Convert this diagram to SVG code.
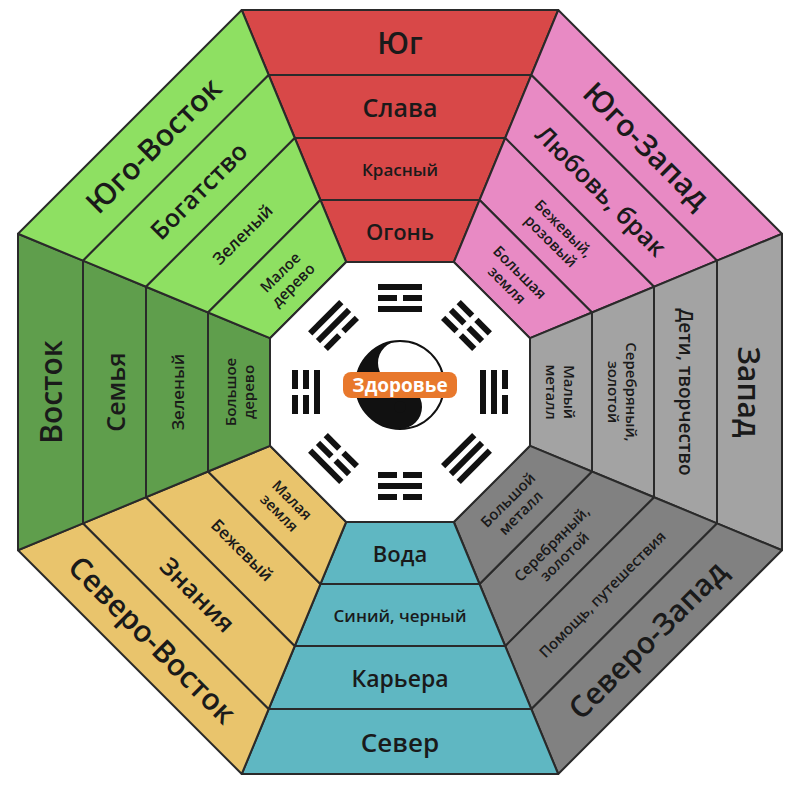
<svg xmlns="http://www.w3.org/2000/svg" width="800" height="786" viewBox="0 0 800 786">
<style>
.b{stroke:#2a2a2a;stroke-width:2;stroke-linejoin:round}
text{font-family:"Open Sans","DejaVu Sans",sans-serif;text-anchor:middle;dominant-baseline:central;fill:#1a1a1a;font-weight:600}
.t0{font-size:30px}.t1{font-size:25px}.t2{font-size:17px}.t3{font-size:19px}.s{font-size:15px}
</style>
<defs>
<g id="bands">
<polygon class="b" points="241.8,10 558.2,10 531.3,75 268.7,75"/>
<polygon class="b" points="268.7,75 531.3,75 505.2,138 294.8,138"/>
<polygon class="b" points="294.8,138 505.2,138 479.5,200 320.5,200"/>
<polygon class="b" points="320.5,200 479.5,200 453.8,262 346.2,262"/>
</g>
<g id="solid"><rect x="378" y="0" width="44" height="6"/></g>
<g id="broken"><rect x="378" y="0" width="19" height="6"/><rect x="403" y="0" width="19" height="6"/></g>
</defs>
<rect width="800" height="786" fill="#fff"/>
<g id="south" transform="rotate(0,400,392)" fill="#d84848">
<use href="#bands"/>
<text class="t0" x="400" y="42.5" fill="#fff">Юг</text>
<text class="t1" x="400" y="106.5">Слава</text>
<text class="t2" x="400" y="169">Красный</text>
<text class="t3" x="400" y="231" style="font-size:22px">Огонь</text>
</g>
<g id="southwest" transform="rotate(45,400,392)" fill="#e88ac4">
<use href="#bands"/>
<text class="t0" x="400" y="42.5">Юго-Запад</text>
<text class="t1" x="400" y="106.5">Любовь, брак</text>
<text class="s" x="400" y="169"><tspan x="400" dy="-9">Бежевый,</tspan><tspan x="400" dy="18">розовый</tspan></text>
<text class="s" x="400" y="231"><tspan x="400" dy="-9">Большая</tspan><tspan x="400" dy="18">земля</tspan></text>
</g>
<g id="west" transform="rotate(90,400,392)" fill="#a3a3a3">
<use href="#bands"/>
<text class="t0" x="400" y="42.5">Запад</text>
<text class="t3" x="400" y="106.5">Дети, творчество</text>
<text class="s" x="400" y="169"><tspan x="400" dy="-9">Серебряный,</tspan><tspan x="400" dy="18">золотой</tspan></text>
<text class="s" x="400" y="231"><tspan x="400" dy="-9">Малый</tspan><tspan x="400" dy="18">металл</tspan></text>
</g>
<g id="northwest" transform="rotate(135,400,392)" fill="#818181">
<use href="#bands"/>
<g transform="rotate(180,400,42.5)"><text class="t0" x="400" y="42.5">Северо-Запад</text></g>
<g transform="rotate(180,400,106.5)"><text class="s" x="400" y="106.5">Помощь, путешествия</text></g>
<g transform="rotate(180,400,169)"><text class="s" x="400" y="169"><tspan x="400" dy="-9">Серебряный,</tspan><tspan x="400" dy="18">золотой</tspan></text></g>
<g transform="rotate(180,400,231)"><text class="s" x="400" y="231"><tspan x="400" dy="-9">Большой</tspan><tspan x="400" dy="18">металл</tspan></text></g>
</g>
<g id="north" transform="rotate(180,400,392)" fill="#5fb7c2">
<use href="#bands"/>
<g transform="rotate(180,400,42.5)"><text class="t0" x="400" y="42.5" style="font-size:26px">Север</text></g>
<g transform="rotate(180,400,106.5)"><text class="t1" x="400" y="106.5" style="font-size:23px">Карьера</text></g>
<g transform="rotate(180,400,169)"><text class="t2" x="400" y="169">Синий, черный</text></g>
<g transform="rotate(180,400,231)"><text class="t3" x="400" y="231" style="font-size:22px">Вода</text></g>
</g>
<g id="northeast" transform="rotate(225,400,392)" fill="#e9c46c">
<use href="#bands"/>
<g transform="rotate(180,400,42.5)"><text class="t0" x="400" y="42.5">Северо-Восток</text></g>
<g transform="rotate(180,400,106.5)"><text class="t1" x="400" y="106.5">Знания</text></g>
<g transform="rotate(180,400,169)"><text class="t2" x="400" y="169">Бежевый</text></g>
<g transform="rotate(180,400,231)"><text class="s" x="400" y="231"><tspan x="400" dy="-9">Малая</tspan><tspan x="400" dy="18">земля</tspan></text></g>
</g>
<g id="east" transform="rotate(270,400,392)" fill="#5f9e4c">
<use href="#bands"/>
<text class="t0" x="400" y="42.5">Восток</text>
<text class="t1" x="400" y="106.5">Семья</text>
<text class="t2" x="400" y="169">Зеленый</text>
<text class="s" x="400" y="231"><tspan x="400" dy="-9">Большое</tspan><tspan x="400" dy="18">дерево</tspan></text>
</g>
<g id="southeast" transform="rotate(315,400,392)" fill="#8ee062">
<use href="#bands"/>
<text class="t0" x="400" y="42.5">Юго-Восток</text>
<text class="t1" x="400" y="106.5">Богатство</text>
<text class="t2" x="400" y="169">Зеленый</text>
<text class="s" x="400" y="231"><tspan x="400" dy="-9">Малое</tspan><tspan x="400" dy="18">дерево</tspan></text>
</g>
<g id="center">
<polygon class="b" fill="#fff" points="346.2,262 453.8,262 530,338.2 530,445.8 453.8,522 346.2,522 270,445.8 270,338.2"/>
<g fill="#111">
<g transform="rotate(0,400,392)"><use href="#solid" y="284"/><use href="#broken" y="295"/><use href="#solid" y="306"/></g>
<g transform="rotate(45,400,392)"><use href="#broken" y="284"/><use href="#broken" y="295"/><use href="#broken" y="306"/></g>
<g transform="rotate(90,400,392)"><use href="#broken" y="284"/><use href="#solid" y="295"/><use href="#solid" y="306"/></g>
<g transform="rotate(135,400,392)"><use href="#solid" y="284"/><use href="#solid" y="295"/><use href="#solid" y="306"/></g>
<g transform="rotate(180,400,392)"><use href="#broken" y="284"/><use href="#solid" y="295"/><use href="#broken" y="306"/></g>
<g transform="rotate(225,400,392)"><use href="#solid" y="284"/><use href="#broken" y="295"/><use href="#broken" y="306"/></g>
<g transform="rotate(270,400,392)"><use href="#broken" y="284"/><use href="#broken" y="295"/><use href="#solid" y="306"/></g>
<g transform="rotate(315,400,392)"><use href="#solid" y="284"/><use href="#solid" y="295"/><use href="#broken" y="306"/></g>
</g>
<circle cx="400" cy="385" r="44" fill="#fff" stroke="#111" stroke-width="2"/>
<path d="M400,341 A44,44 0 0,0 400,429 A22,22 0 0,0 400,385 A22,22 0 0,1 400,341 Z" fill="#111"/>
<circle cx="400" cy="363" r="6" fill="#fff"/>
<circle cx="400" cy="407" r="6" fill="#111"/>
<rect x="343" y="372" width="114" height="26" rx="8" fill="#e8782c"/>
<text x="400" y="385" style="font-size:19px;font-weight:bold;fill:#fff">Здоровье</text>
</g>
</svg>
